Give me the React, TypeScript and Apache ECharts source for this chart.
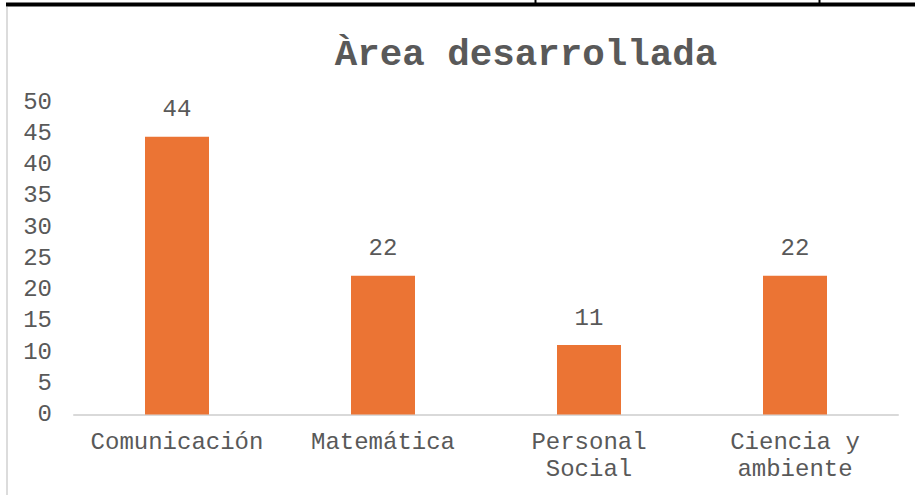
import React, { useEffect, useRef } from "react";
import * as echarts from "echarts";

const categories = ["Comunicación", "Matemática", "Personal Social", "Ciencia y ambiente"];
const values = [44.44, 22.22, 11.11, 22.22];
const titleText = "Àrea desarrollada";

const FONT = "'Liberation Mono', 'Courier New', monospace";
const GREY = "#595959";

// word-wrap category names at a maximum number of characters per line
function wrap(text: string, maxChars: number): string {
  const words = text.split(" ");
  const lines: string[] = [];
  let cur = "";
  for (const w of words) {
    const next = cur ? cur + " " + w : w;
    if (next.length > maxChars && cur) {
      lines.push(cur);
      cur = w;
    } else {
      cur = next;
    }
  }
  if (cur) lines.push(cur);
  return lines.join("\n");
}

export default function App() {
  const ref = useRef<HTMLDivElement>(null);
  useEffect(() => {
    document.body.style.margin = "0";
    const chart = echarts.init(ref.current!, null, { renderer: "svg" });
    chart.setOption({
      animation: false,
      backgroundColor: "#ffffff",
      title: {
        text: titleText,
        left: 521,
        textAlign: "center",
        top: 31,
        textStyle: { fontFamily: FONT, fontSize: 37.5, fontWeight: "bold", color: GREY },
      },
      grid: { left: 74, right: 17, top: 102, bottom: 80.5 },
      xAxis: {
        type: "category",
        data: categories,
        axisLine: { lineStyle: { color: "#d9d9d9", width: 2 } },
        axisTick: { show: false },
        axisLabel: {
          interval: 0,
          margin: 15,
          fontFamily: FONT,
          fontSize: 24,
          lineHeight: 26.5,
          color: GREY,
          formatter: (v: string) => wrap(v, 13),
        },
      },
      yAxis: {
        type: "value",
        min: 0,
        max: 50,
        interval: 5,
        splitLine: { show: false },
        axisLine: { show: false },
        axisTick: { show: false },
        axisLabel: { margin: 22, fontFamily: FONT, fontSize: 24, color: GREY },
      },
      series: [
        {
          type: "bar",
          data: values,
          barWidth: 64,
          itemStyle: { color: "#EB7434" },
          label: {
            show: true,
            position: "top",
            distance: 15,
            fontFamily: FONT,
            fontSize: 24,
            color: GREY,
            formatter: (p: any) => Math.round(p.value).toString(),
          },
        },
      ],
      graphic: [
        { type: "rect", shape: { x: 6, y: 2.5, width: 915, height: 4 }, style: { fill: "#000" } },
        { type: "rect", shape: { x: 534.5, y: 0, width: 2, height: 4 }, style: { fill: "#000" } },
        { type: "rect", shape: { x: 818.5, y: 0, width: 2, height: 4 }, style: { fill: "#000" } },
        { type: "rect", shape: { x: 6, y: 7, width: 2, height: 490 }, style: { fill: "#dcdcdc" } },
      ],
    });
    return () => chart.dispose();
  }, []);
  return <div ref={ref} style={{ position: "fixed", left: 0, top: 0, width: 915, height: 495 }} />;
}
